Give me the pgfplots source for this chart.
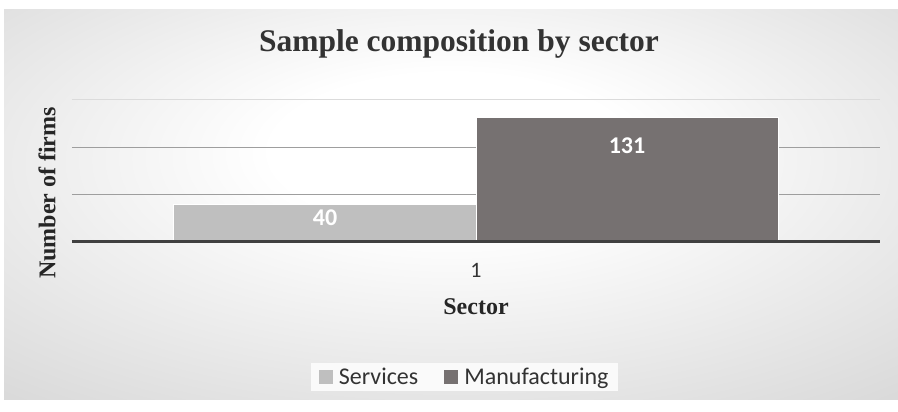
\documentclass[border=0pt]{standalone}
\usepackage{pgfplots}
\pgfplotsset{compat=1.18}
\usepackage{fontspec}
\setmainfont{Liberation Serif}
\newfontfamily\calf{Carlito}
\definecolor{svc}{RGB}{191,191,191}
\definecolor{mfg}{RGB}{118,113,113}
\definecolor{basec}{RGB}{64,64,64}
\pgfdeclareradialshading{bgshade}{\pgfpoint{0bp}{8bp}}{color(0bp)=(white); color(10bp)=(white); color(50bp)=(black!21); color(72bp)=(black!27)}
\begin{document}
\begin{tikzpicture}[x=1pt,y=1pt]
\fill[white] (0,0) rectangle (898,412);
\shade[shading=bgshade] (4,12) rectangle (898,402);
\begin{axis}[
  at={(72pt,170pt)}, anchor=south west,
  scale only axis, width=808pt, height=142pt,
  ymin=0, ymax=150, xmin=-1, xmax=1,
  ybar=0pt, bar width=302pt,
  /pgf/number format/assume math mode=true,
  axis line style={draw=none},
  ytick={50,100}, yticklabels={},
  ymajorgrids, grid style={color=black!38, line width=1pt},
  extra y ticks={150}, extra y tick labels={},
  extra y tick style={grid style={color=black!14, line width=1pt}},
  major tick length=0pt,
  xtick={0}, xticklabels={1},
  xticklabel style={font=\calf\fontsize{22}{26}\selectfont, text=black!80, anchor=center, yshift=-28pt},
  xlabel={Sector},
  xlabel style={font=\fontsize{24}{28}\selectfont\bfseries, text=black!85, at={(axis description cs:0.5,-0.458)}, anchor=center},
  ylabel={Number of firms},
  ylabel style={font=\fontsize{24}{28}\selectfont\bfseries, text=black!85, at={(axis description cs:-0.031,0.345)}, anchor=center, rotate=0},
  title={Sample composition by sector},
  title style={font=\fontsize{31.5}{36}\selectfont\bfseries, text=black!80, at={(axis description cs:0.479,1.352)}, anchor=center},
  legend style={at={(axis description cs:0.486,-0.951)}, anchor=center, legend columns=2, draw=none, fill=black!2,
    font=\calf\fontsize{24}{27}\selectfont, text=black!80, inner xsep=8pt, inner ysep=3pt,
    /tikz/every odd column/.append style={column sep=4pt},
    /tikz/every even column/.append style={column sep=24pt}},
  nodes near coords,
  clip=false,
]
\addplot[fill=svc, draw=white, line width=1pt,
  legend image code/.code={\fill[svc] (0pt,-6.5pt) rectangle (13pt,6.5pt);},
  every node near coord/.append style={font=\calf\bfseries\fontsize{24}{27}\selectfont, text=white, anchor=center, yshift=-14pt}]
  coordinates {(0,40)};
\addplot[fill=mfg, draw=white, line width=1pt,
  legend image code/.code={\fill[mfg] (0pt,-6.5pt) rectangle (13pt,6.5pt);},
  every node near coord/.append style={font=\calf\bfseries\fontsize{24}{27}\selectfont, text=white, anchor=center, yshift=-28pt}]
  coordinates {(0,131)};
\legend{Services, Manufacturing}
\draw[basec, line width=3pt] (axis cs:-1,0) -- (axis cs:1,0);
\end{axis}
\end{tikzpicture}
\end{document}
